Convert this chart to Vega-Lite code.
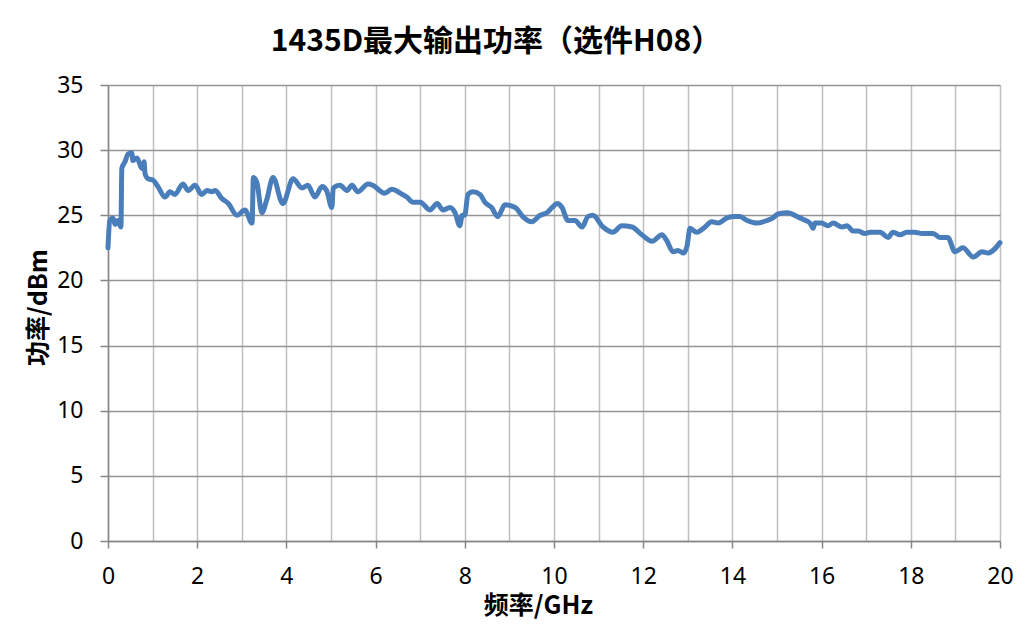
{
  "$schema": "https://vega.github.io/schema/vega-lite/v6.json",
  "width": 892,
  "height": 456,
  "autosize": {"type": "none"},
  "padding": {"left": 108, "top": 85, "right": 19, "bottom": 85},
  "background": "white",
  "title": {
    "text": "1435D最大输出功率（选件H08）",
    "font": "Noto Sans CJK SC",
    "fontSize": 30,
    "fontWeight": "bold",
    "color": "#000000",
    "anchor": "middle",
    "dx": -58,
    "offset": 17
  },
  "config": {
    "view": {"stroke": null},
    "axis": {
      "labelFont": "Noto Sans",
      "labelFontSize": 23,
      "labelColor": "#000000",
      "titleFont": "Noto Sans CJK SC",
      "titleFontSize": 25,
      "titleFontWeight": "bold",
      "titleColor": "#000000",
      "domainColor": "#868686",
      "domainWidth": 1.5,
      "tickColor": "#868686",
      "tickWidth": 1.5
    }
  },
  "data": {
    "values": [
      {"f": 0, "p": 22.5}, {"f": 0.04, "p": 24.6}, {"f": 0.11, "p": 24.8}, {"f": 0.16, "p": 24.3},
      {"f": 0.22, "p": 24.6}, {"f": 0.29, "p": 24.1}, {"f": 0.31, "p": 28.6}, {"f": 0.38, "p": 29.1},
      {"f": 0.45, "p": 29.7}, {"f": 0.53, "p": 29.8}, {"f": 0.56, "p": 29.2}, {"f": 0.65, "p": 29.4},
      {"f": 0.76, "p": 28.6}, {"f": 0.81, "p": 29.1}, {"f": 0.83, "p": 28.2}, {"f": 0.9, "p": 27.8},
      {"f": 1.01, "p": 27.7}, {"f": 1.12, "p": 27.2}, {"f": 1.28, "p": 26.4}, {"f": 1.39, "p": 26.8},
      {"f": 1.5, "p": 26.6}, {"f": 1.68, "p": 27.4}, {"f": 1.8, "p": 26.9}, {"f": 1.95, "p": 27.3},
      {"f": 2.1, "p": 26.6}, {"f": 2.22, "p": 26.9}, {"f": 2.33, "p": 26.8}, {"f": 2.4, "p": 26.9},
      {"f": 2.55, "p": 26.3}, {"f": 2.7, "p": 25.9}, {"f": 2.89, "p": 25.0}, {"f": 3.07, "p": 25.4},
      {"f": 3.23, "p": 24.4}, {"f": 3.26, "p": 27.9}, {"f": 3.34, "p": 27.5}, {"f": 3.45, "p": 25.2},
      {"f": 3.56, "p": 26.2}, {"f": 3.7, "p": 27.9}, {"f": 3.92, "p": 25.9}, {"f": 4.15, "p": 27.8},
      {"f": 4.35, "p": 27.1}, {"f": 4.48, "p": 27.3}, {"f": 4.64, "p": 26.4}, {"f": 4.8, "p": 27.2},
      {"f": 4.9, "p": 26.9}, {"f": 5.02, "p": 25.6}, {"f": 5.05, "p": 27.1}, {"f": 5.2, "p": 27.3},
      {"f": 5.36, "p": 26.9}, {"f": 5.47, "p": 27.3}, {"f": 5.6, "p": 26.8}, {"f": 5.83, "p": 27.4},
      {"f": 5.94, "p": 27.3}, {"f": 6.2, "p": 26.7}, {"f": 6.37, "p": 27.0}, {"f": 6.55, "p": 26.7},
      {"f": 6.7, "p": 26.4}, {"f": 6.84, "p": 26.0}, {"f": 7.0, "p": 26.0}, {"f": 7.22, "p": 25.4},
      {"f": 7.38, "p": 25.9}, {"f": 7.51, "p": 25.4}, {"f": 7.67, "p": 25.6}, {"f": 7.78, "p": 25.2},
      {"f": 7.89, "p": 24.2}, {"f": 7.94, "p": 25.0}, {"f": 8.0, "p": 25.0}, {"f": 8.07, "p": 26.6},
      {"f": 8.18, "p": 26.8}, {"f": 8.34, "p": 26.6}, {"f": 8.45, "p": 26.0}, {"f": 8.6, "p": 25.6},
      {"f": 8.74, "p": 24.9}, {"f": 8.9, "p": 25.8}, {"f": 9.13, "p": 25.6}, {"f": 9.3, "p": 24.9},
      {"f": 9.5, "p": 24.5}, {"f": 9.69, "p": 25.0}, {"f": 9.84, "p": 25.2}, {"f": 9.96, "p": 25.6},
      {"f": 10.07, "p": 25.9}, {"f": 10.18, "p": 25.6}, {"f": 10.31, "p": 24.6}, {"f": 10.47, "p": 24.6},
      {"f": 10.63, "p": 24.1}, {"f": 10.76, "p": 24.9}, {"f": 10.87, "p": 25.0}, {"f": 11.1, "p": 24.1},
      {"f": 11.32, "p": 23.7}, {"f": 11.52, "p": 24.2}, {"f": 11.75, "p": 24.1}, {"f": 11.97, "p": 23.5},
      {"f": 12.2, "p": 23.0}, {"f": 12.42, "p": 23.5}, {"f": 12.52, "p": 23.1}, {"f": 12.67, "p": 22.2},
      {"f": 12.78, "p": 22.3}, {"f": 12.9, "p": 22.1}, {"f": 12.98, "p": 22.6}, {"f": 13.05, "p": 24.0},
      {"f": 13.2, "p": 23.7}, {"f": 13.35, "p": 24.0}, {"f": 13.54, "p": 24.5}, {"f": 13.68, "p": 24.4},
      {"f": 13.88, "p": 24.8}, {"f": 14.06, "p": 24.9}, {"f": 14.17, "p": 24.9}, {"f": 14.33, "p": 24.6},
      {"f": 14.55, "p": 24.4}, {"f": 14.78, "p": 24.6}, {"f": 14.91, "p": 24.8}, {"f": 15.02, "p": 25.1},
      {"f": 15.25, "p": 25.2}, {"f": 15.45, "p": 24.9}, {"f": 15.58, "p": 24.7}, {"f": 15.74, "p": 24.4},
      {"f": 15.81, "p": 24.0}, {"f": 15.85, "p": 24.4}, {"f": 16.0, "p": 24.4}, {"f": 16.14, "p": 24.2},
      {"f": 16.26, "p": 24.4}, {"f": 16.46, "p": 24.1}, {"f": 16.57, "p": 24.2}, {"f": 16.7, "p": 23.8},
      {"f": 16.82, "p": 23.8}, {"f": 16.97, "p": 23.6}, {"f": 17.09, "p": 23.7}, {"f": 17.31, "p": 23.7},
      {"f": 17.49, "p": 23.3}, {"f": 17.6, "p": 23.7}, {"f": 17.76, "p": 23.5}, {"f": 17.91, "p": 23.7},
      {"f": 18.09, "p": 23.7}, {"f": 18.25, "p": 23.6}, {"f": 18.5, "p": 23.6}, {"f": 18.65, "p": 23.3},
      {"f": 18.83, "p": 23.3}, {"f": 18.99, "p": 22.2}, {"f": 19.17, "p": 22.5}, {"f": 19.4, "p": 21.8},
      {"f": 19.6, "p": 22.2}, {"f": 19.73, "p": 22.1}, {"f": 20.0, "p": 22.9}
    ]
  },
  "mark": {"type": "line", "color": "#4A7EBB", "strokeWidth": 5, "strokeJoin": "round", "strokeCap": "round", "interpolate": "monotone"},
  "encoding": {
    "x": {
      "field": "f",
      "type": "quantitative",
      "title": "频率/GHz",
      "scale": {"domain": [0, 20], "nice": false},
      "axis": {
        "values": [0,1,2,3,4,5,6,7,8,9,10,11,12,13,14,15,16,17,18,19,20],
        "labelExpr": "datum.value % 2 === 0 ? datum.label : ''",
        "labelFlush": false,
        "labelOverlap": false,
        "tickOpacity": {"condition": {"test": "datum.value % 2 === 1", "value": 0}, "value": 1},
        "tickSize": 7,
        "labelPadding": 17,
        "grid": true,
        "gridColor": "#BFBFBF",
        "gridWidth": 1.5,
        "titlePadding": 5,
        "titleX": 430
      }
    },
    "y": {
      "field": "p",
      "type": "quantitative",
      "title": "功率/dBm",
      "scale": {"domain": [0, 35], "nice": false},
      "axis": {
        "values": [0, 5, 10, 15, 20, 25, 30, 35],
        "labelFlush": false,
        "labelOverlap": false,
        "tickSize": 8,
        "labelPadding": 17,
        "grid": true,
        "gridColor": "#959595",
        "gridWidth": 1.5,
        "titlePadding": 5,
        "titleY": 222
      }
    }
  }
}
